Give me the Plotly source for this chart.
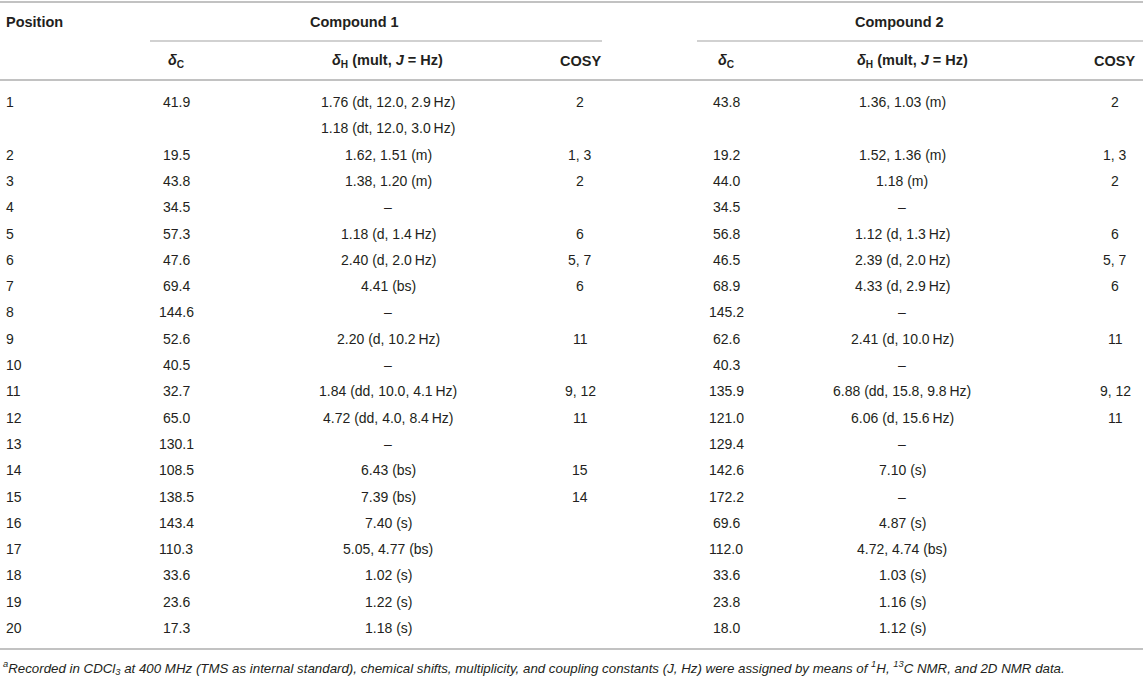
import plotly.graph_objects as go

# NMR data table, compounds 1 and 2
positions = ["1", "", "2", "3", "4", "5", "6", "7", "8", "9", "10", "11", "12",
             "13", "14", "15", "16", "17", "18", "19", "20"]

c1_dc = ["41.9", "", "19.5", "43.8", "34.5", "57.3", "47.6", "69.4", "144.6", "52.6",
         "40.5", "32.7", "65.0", "130.1", "108.5", "138.5", "143.4", "110.3", "33.6",
         "23.6", "17.3"]
c1_dh = ["1.76 (dt, 12.0, 2.9\u2009Hz)", "1.18 (dt, 12.0, 3.0\u2009Hz)", "1.62, 1.51 (m)",
         "1.38, 1.20 (m)", "–", "1.18 (d, 1.4\u2009Hz)", "2.40 (d, 2.0\u2009Hz)", "4.41 (bs)",
         "–", "2.20 (d, 10.2\u2009Hz)", "–", "1.84 (dd, 10.0, 4.1\u2009Hz)",
         "4.72 (dd, 4.0, 8.4\u2009Hz)", "–", "6.43 (bs)", "7.39 (bs)", "7.40 (s)",
         "5.05, 4.77 (bs)", "1.02 (s)", "1.22 (s)", "1.18 (s)"]
c1_cosy = ["2", "", "1, 3", "2", "", "6", "5, 7", "6", "", "11", "", "9, 12", "11",
           "", "15", "14", "", "", "", "", ""]

c2_dc = ["43.8", "", "19.2", "44.0", "34.5", "56.8", "46.5", "68.9", "145.2", "62.6",
         "40.3", "135.9", "121.0", "129.4", "142.6", "172.2", "69.6", "112.0", "33.6",
         "23.8", "18.0"]
c2_dh = ["1.36, 1.03 (m)", "", "1.52, 1.36 (m)", "1.18 (m)", "–", "1.12 (d, 1.3\u2009Hz)",
         "2.39 (d, 2.0\u2009Hz)", "4.33 (d, 2.9\u2009Hz)", "–", "2.41 (d, 10.0\u2009Hz)", "–",
         "6.88 (dd, 15.8, 9.8\u2009Hz)", "6.06 (d, 15.6\u2009Hz)", "–", "7.10 (s)", "–",
         "4.87 (s)", "4.72, 4.74 (bs)", "1.03 (s)", "1.16 (s)", "1.12 (s)"]
c2_cosy = ["2", "", "1, 3", "2", "", "6", "5, 7", "6", "", "11", "", "9, 12", "11",
           "", "", "", "", "", "", "", ""]

group_titles = ["Compound 1", "Compound 2"]
sub_headers = ["<i>δ</i><sub>C</sub>", "<i>δ</i><sub>H</sub> (mult, <i>J</i> = Hz)", "COSY"]
footnote = ("<i><sup>a</sup>Recorded in CDCl<sub>3</sub> at 400 MHz (TMS as internal standard), "
            "chemical shifts, multiplicity, and coupling constants (J, Hz) were assigned by "
            "means of <sup>1</sup>H, <sup>13</sup>C NMR, and 2D NMR data.</i>")

FONT = "Liberation Sans, Arial, sans-serif"
TXT = "#231f20"
LINE = "#c2c2c2"

W, H = 1143, 682
row0, step = 102, 26.3

fig = go.Figure()
fig.add_trace(go.Scatter(x=[0, W], y=[0, H], mode="markers",
                         marker=dict(opacity=0), hoverinfo="skip", showlegend=False))

ann = []


def cell(x, y, text, anchor="center", bold=False, size=14):
    ann.append(dict(x=x, y=y, xref="x", yref="y", text=("<b>%s</b>" % text) if bold else text,
                    showarrow=False, xanchor=anchor, yanchor="middle",
                    font=dict(family=FONT, size=size, color=TXT)))


# header
cell(4, 22, "Position", anchor="left", bold=True, size=14.5)
cell(354, 22, group_titles[0], bold=True, size=14.5)
cell(899, 22, group_titles[1], bold=True, size=14.5)
for xs in ([176, 387, 580], [726, 912, 1114]):
    for x, t in zip(xs, sub_headers):
        cell(x, 61, t, bold=True, size=14.5)

# body
cols = [(c1_dc, 176), (c1_dh, 388), (c1_cosy, 580), (c2_dc, 726), (c2_dh, 902), (c2_cosy, 1115)]
for i, p in enumerate(positions):
    y = row0 + step * i
    if p:
        cell(4, y, p, anchor="left")
    for vals, x in cols:
        if vals[i]:
            cell(x, y, vals[i])

cell(1, 668, footnote, anchor="left", size=13.3)

shapes = [
    dict(type="line", x0=0, x1=W, y0=2, y1=2, line=dict(color=LINE, width=2)),
    dict(type="line", x0=150, x1=602, y0=41, y1=41, line=dict(color=LINE, width=1.5)),
    dict(type="line", x0=697, x1=W, y0=41, y1=41, line=dict(color=LINE, width=1.5)),
    dict(type="line", x0=0, x1=W, y0=80, y1=80, line=dict(color=LINE, width=2)),
    dict(type="line", x0=0, x1=W, y0=649, y1=649, line=dict(color=LINE, width=2)),
]
for s in shapes:
    s.update(xref="x", yref="y")

fig.update_layout(
    width=W, height=H,
    margin=dict(l=0, r=0, t=0, b=0),
    paper_bgcolor="white", plot_bgcolor="white",
    xaxis=dict(range=[0, W], visible=False, fixedrange=True),
    yaxis=dict(range=[H, 0], visible=False, fixedrange=True),
    annotations=ann, shapes=shapes,
)

# page body margin would otherwise shift the figure by 8px
fig.write_html("out.html", config={"displayModeBar": False},
               post_script="document.body.style.margin='0';")
